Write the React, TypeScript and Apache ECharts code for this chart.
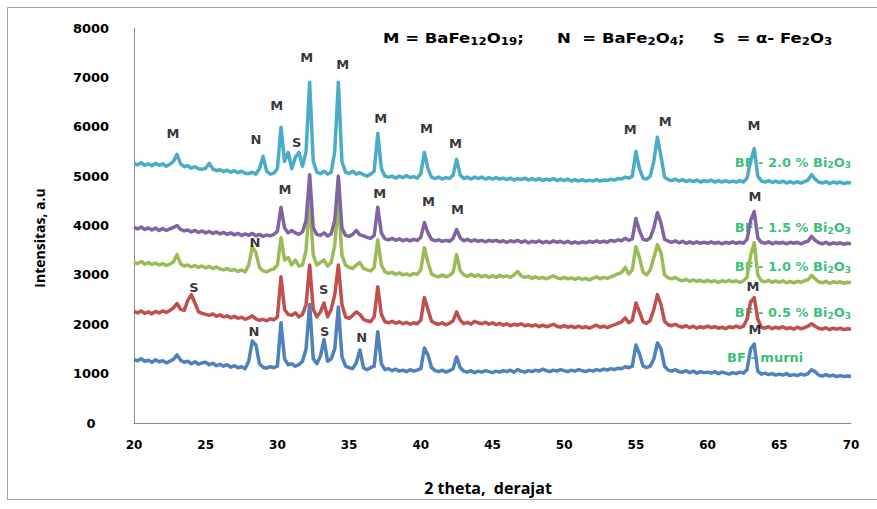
import React, { useEffect, useRef } from "react";
import * as echarts from "echarts";

// 2θ grid: 20° .. 70° in 0.25° steps
const X_START = 20;
const X_STEP = 0.25;

const seriesNames = ["BF murni", "BF - 0.5 % Bi2O3", "BF - 1.0 % Bi2O3", "BF - 1.5 % Bi2O3", "BF - 2.0 % Bi2O3"];
const seriesColors = ["#4F81BD", "#C0504D", "#9BBB59", "#8064A2", "#4BACC6"];

const bfMurni = [
  1290,1260,1300,1250,1270,1230,1280,1240,1260,1220,1250,1290,1380,1270,1230,1250,1200,1240,1190,1220,
  1230,1180,1210,1160,1190,1150,1180,1130,1160,1120,1140,1100,1250,1660,1580,1200,1130,1110,1140,1120,
  1150,2030,1300,1180,1200,1150,1180,1250,1500,2400,1300,1200,1350,1690,1250,1300,1500,2350,1350,1150,
  1120,1100,1220,1480,1120,1080,1120,1150,1850,1200,1080,1100,1060,1090,1050,1070,1040,1080,1050,1070,
  1100,1520,1380,1120,1060,1040,1070,1030,1060,1100,1340,1120,1050,1030,1060,1020,1050,1030,1060,1040,
  1020,1050,1030,1060,1040,1070,1030,1080,1050,1030,1060,1040,1070,1050,1090,1060,1040,1070,1050,1080,
  1060,1040,1070,1050,1080,1060,1040,1070,1050,1080,1060,1090,1070,1100,1080,1110,1100,1140,1120,1150,
  1580,1400,1150,1120,1150,1300,1620,1500,1150,1070,1050,1080,1040,1030,1060,1020,1050,1010,1040,1020,
  1030,1010,1040,1000,1030,1010,990,1020,1000,1030,1010,1080,1500,1600,1050,990,1010,980,1000,970,
  990,970,1000,960,980,960,990,970,1000,1080,1040,970,950,980,950,970,940,960,940,950,
  940,
];

const bf05 = [
  2260,2230,2270,2220,2250,2210,2260,2230,2270,2240,2280,2330,2420,2300,2280,2480,2600,2430,2250,2220,
  2200,2180,2210,2160,2190,2150,2170,2130,2160,2120,2140,2100,2130,2170,2110,2080,2100,2070,2110,2090,
  2150,2960,2300,2200,2180,2230,2150,2200,2400,3200,2300,2150,2250,2430,2150,2300,2600,3200,2400,2150,
  2120,2180,2250,2200,2100,2070,2050,2150,2760,2200,2050,2030,2060,2020,2050,2010,2040,2000,2030,2010,
  2080,2540,2300,2060,2020,2000,2030,1990,2020,2070,2250,2080,2010,2040,2000,2060,2030,2010,2040,2000,
  2030,1990,2020,1980,2010,1970,2000,1980,2010,1970,1990,1960,1990,1950,1980,1950,1970,2000,1960,1940,
  1970,1940,1960,1930,1960,1930,1950,1920,1950,1980,1940,1960,1930,1960,1990,2020,2050,2130,2030,2080,
  2430,2250,2050,2020,2080,2300,2600,2400,2060,1990,1970,2000,1960,1940,1970,1930,1960,1920,1950,1930,
  1960,1930,1950,1920,1940,1910,1950,1930,1960,1930,1960,2100,2450,2540,2100,1940,1920,1950,1910,1940,
  1920,1950,1910,1930,1900,1940,1910,1930,1960,2010,1960,1920,1900,1930,1890,1920,1900,1920,1890,1910,
  1900,
];

const bf10 = [
  3260,3230,3270,3220,3250,3210,3240,3200,3230,3190,3220,3260,3410,3220,3180,3200,3160,3190,3150,3180,
  3140,3170,3130,3160,3120,3100,3130,3090,3110,3070,3100,3060,3200,3570,3450,3150,3080,3060,3100,3120,
  3200,3750,3300,3350,3200,3300,3180,3200,3500,4500,3400,3200,3250,3300,3180,3250,3600,4500,3400,3200,
  3150,3130,3200,3250,3130,3100,3080,3150,3710,3200,3060,3030,3050,3010,3040,3000,3020,2990,3030,3010,
  3100,3550,3250,3020,2980,2960,3000,2960,2990,3050,3410,3080,3000,2970,3010,2970,3000,2960,2990,2950,
  2980,2950,2990,2960,2980,2950,3000,3070,2980,2950,2970,2930,2960,2930,2950,2920,2950,2980,2940,2920,
  2950,2920,2940,2910,2940,2910,2930,2900,2930,2960,2920,2950,2930,2960,2990,3020,3050,3150,3020,3100,
  3570,3350,3050,3000,3100,3350,3610,3450,3000,2940,2920,2950,2900,2880,2910,2870,2900,2870,2890,2860,
  2890,2860,2880,2850,2880,2860,2890,2860,2880,2850,2880,2950,3400,3650,3000,2880,2860,2890,2850,2880,
  2850,2880,2840,2870,2840,2870,2850,2880,2900,2990,2920,2860,2840,2870,2830,2860,2840,2860,2830,2850,
  2840,
];

const bf15 = [
  3960,3930,3970,3920,3950,3910,3950,3900,3940,3900,3930,3960,4000,3920,3890,3910,3870,3900,3860,3890,
  3850,3880,3840,3870,3830,3860,3820,3850,3810,3840,3800,3830,3800,3840,3790,3820,3780,3810,3790,3820,
  3880,4370,3950,3850,3900,3850,3820,3870,4100,5030,3950,3820,3800,3850,3790,3830,4100,5000,3950,3800,
  3780,3820,3900,3810,3790,3760,3740,3800,4370,3850,3730,3710,3740,3700,3730,3690,3720,3690,3720,3700,
  3760,4060,3850,3720,3690,3710,3680,3700,3680,3740,3920,3750,3690,3720,3680,3710,3680,3700,3670,3700,
  3680,3700,3670,3690,3660,3690,3670,3700,3660,3690,3650,3680,3660,3690,3650,3680,3650,3690,3660,3680,
  3650,3680,3640,3670,3640,3670,3650,3680,3660,3690,3660,3680,3660,3700,3680,3710,3690,3740,3700,3730,
  4140,3900,3720,3700,3750,3950,4260,4050,3720,3680,3660,3690,3650,3680,3640,3670,3640,3670,3640,3660,
  3640,3670,3640,3660,3630,3660,3640,3670,3640,3660,3640,3720,4100,4280,3750,3660,3640,3670,3630,3660,
  3640,3660,3630,3660,3640,3660,3630,3660,3680,3780,3700,3650,3630,3660,3620,3650,3630,3650,3620,3640,
  3630,
];

const bf20 = [
  5260,5230,5270,5220,5250,5210,5260,5220,5250,5200,5240,5300,5440,5250,5190,5210,5160,5190,5150,5140,
  5160,5260,5140,5110,5130,5090,5120,5080,5110,5070,5100,5060,5050,5080,5040,5150,5400,5100,5040,5060,
  5150,5990,5300,5480,5150,5380,5480,5200,5500,6900,5300,5080,5050,5100,5040,5080,5500,6900,5300,5080,
  5050,5100,5040,5070,5030,5000,5040,5100,5870,5150,5000,4980,5000,4960,5000,4970,5010,4970,4990,4960,
  5050,5480,5150,4980,4950,4980,4940,4970,4950,5020,5340,5020,4950,4980,4940,4980,4950,4980,4940,4970,
  4940,4970,4940,4960,4930,4960,4920,4950,4930,4960,4920,4950,4920,4950,4910,4940,4920,4950,4910,4940,
  4910,4940,4900,4930,4900,4930,4900,4920,4900,4930,4900,4920,4910,4940,4920,4950,4940,4980,4960,5000,
  5500,5150,4960,4940,5000,5300,5790,5400,4980,4930,4910,4940,4900,4930,4890,4920,4890,4920,4880,4910,
  4890,4920,4880,4910,4880,4910,4880,4900,4880,4910,4880,4960,5300,5560,5000,4900,4880,4910,4870,4900,
  4870,4900,4860,4890,4860,4890,4860,4890,4920,5030,4940,4880,4860,4890,4850,4880,4860,4880,4850,4870,
  4860,
];

const seriesValues = [bfMurni, bf05, bf10, bf15, bf20];

// phase markers [2θ, intensity, letter]
const peakMarkers: [number, number, string][] = [
  [22.72, 5868, "M"], [28.5, 5746, "N"], [29.96, 6437, "M"], [31.35, 5685, "S"],
  [32.05, 7411, "M"], [34.55, 7269, "M"], [37.2, 6173, "M"], [40.4, 5970, "M"],
  [42.42, 5665, "M"], [54.61, 5949, "M"], [57.05, 6112, "M"], [63.24, 6030, "M"],
  [30.52, 4731, "M"], [37.13, 4650, "M"], [40.54, 4487, "M"], [42.56, 4325, "M"], [63.31, 4589, "M"],
  [28.43, 3655, "N"], [63.17, 2761, "M"],
  [24.18, 2741, "S"], [33.23, 2700, "S"], [63.31, 1888, "M"],
  [28.36, 1848, "N"], [33.3, 1848, "S"], [35.88, 1726, "N"],
];

// sample labels [2θ anchor, intensity, rich text, side]
const sampleLabels: [number, number, string, string][] = [
  [70.0, 5279, "BF - 2.0 % Bi{s|2}O{s|3}", "left"],
  [70.0, 3959, "BF - 1.5 % Bi{s|2}O{s|3}", "left"],
  [70.0, 3168, "BF - 1.0 % Bi{s|2}O{s|3}", "left"],
  [70.0, 2234, "BF - 0.5 % Bi{s|2}O{s|3}", "left"],
  [61.36, 1320, "BF - murni", "right"],
];

const legendParts = [
  "M = BaFe{s|12}O{s|19};",
  "N  = BaFe{s|2}O{s|4};",
  "S  = α- Fe{s|2}O{s|3}",
];

const BOLD = "DejaVu Sans";

export default function App() {
  const ref = useRef<HTMLDivElement>(null);
  useEffect(() => {
    if (!ref.current) return;
    const chart = echarts.init(ref.current, undefined, { renderer: "svg" });

    const lineSeries = seriesValues.map((vals, k) => ({
      name: seriesNames[k],
      type: "line",
      data: vals.map((v, i) => [X_START + i * X_STEP, v]),
      showSymbol: false,
      symbol: "none",
      z: 3,
      lineStyle: { color: seriesColors[k], width: 3.5, join: "round" },
      itemStyle: { color: seriesColors[k] },
    }));

    const markerSeries = {
      type: "scatter",
      data: peakMarkers.map((m) => [m[0], m[1], m[2]]),
      symbolSize: 0,
      z: 4,
      silent: true,
      label: {
        show: true,
        position: "inside",
        formatter: (p: any) => p.value[2],
        fontFamily: BOLD,
        fontWeight: "bold",
        fontSize: 13,
        color: "#000",
      },
    };

    const sampleSeries = sampleLabels.map((s) => ({
      type: "scatter",
      data: [[s[0], s[1]]],
      symbolSize: 0,
      z: 1,
      silent: true,
      label: {
        show: true,
        position: s[3],
        distance: 0,
        formatter: s[2],
        fontFamily: BOLD,
        fontWeight: "bold",
        fontSize: 13,
        color: "#00B050",
        rich: {
          s: { fontFamily: BOLD, fontWeight: "bold", fontSize: 9, color: "#00B050", padding: [6, 0, 0, 0] },
        },
      },
    }));

    const legendX = [383, 557, 713];

    const option: any = {
      animation: false,
      backgroundColor: "#ffffff",
      grid: { left: 134, right: 26, top: 28, bottom: 86 },
      xAxis: {
        type: "value",
        min: 20,
        max: 70,
        interval: 5,
        axisLine: { lineStyle: { color: "#8c8c8c", width: 1 } },
        axisTick: { show: false },
        splitLine: { show: false },
        axisLabel: { margin: 16, fontSize: 12, fontWeight: "bold", fontFamily: BOLD, color: "#000", formatter: (v: number) => String(v) },
      },
      yAxis: {
        type: "value",
        min: 0,
        max: 8000,
        interval: 1000,
        axisLine: { show: true, lineStyle: { color: "#8c8c8c", width: 1 } },
        axisTick: { show: false },
        splitLine: { show: false },
        axisLabel: { margin: 43, align: "center", fontSize: 13, fontWeight: "bold", fontFamily: BOLD, color: "#000", formatter: (v: number) => String(v) },
      },
      graphic: [
        {
          type: "rect",
          silent: true,
          z: -10,
          shape: { x: 7.5, y: 7.5, width: 880, height: 492 },
          style: { fill: "none", stroke: "#a0a0a0", lineWidth: 1 },
        },
        ...legendParts.map((t, i) => ({
          type: "text",
          x: legendX[i],
          y: 38,
          scaleX: 1.18,
          silent: true,
          style: {
            text: t,
            fontFamily: BOLD,
            fontWeight: "bold",
            fontSize: 14,
            fill: "#000",
            align: "left",
            verticalAlign: "middle",
            rich: {
              s: { fontFamily: BOLD, fontWeight: "bold", fontSize: 10, fill: "#000", padding: [7, 0, 0, 0] },
            },
          },
        })),
        {
          type: "text",
          x: 39,
          y: 238,
          rotation: Math.PI / 2,
          silent: true,
          style: {
            text: "Intensitas, a.u",
            fontFamily: "Open Sans",
            fontWeight: 700,
            fontSize: 14,
            fill: "#000",
            align: "center",
            verticalAlign: "middle",
          },
        },
        {
          type: "text",
          x: 488,
          y: 488,
          silent: true,
          style: {
            text: "2 theta,  derajat",
            fontFamily: "Open Sans",
            fontWeight: 700,
            fontSize: 16,
            fill: "#000",
            align: "center",
            verticalAlign: "middle",
          },
        },
      ],
      series: [...sampleSeries, ...lineSeries, markerSeries],
    };

    chart.setOption(option);
    return () => chart.dispose();
  }, []);

  return (
    <div
      ref={ref}
      style={{ position: "fixed", left: 0, top: 0, width: 877, height: 509, background: "#fff" }}
    />
  );
}
